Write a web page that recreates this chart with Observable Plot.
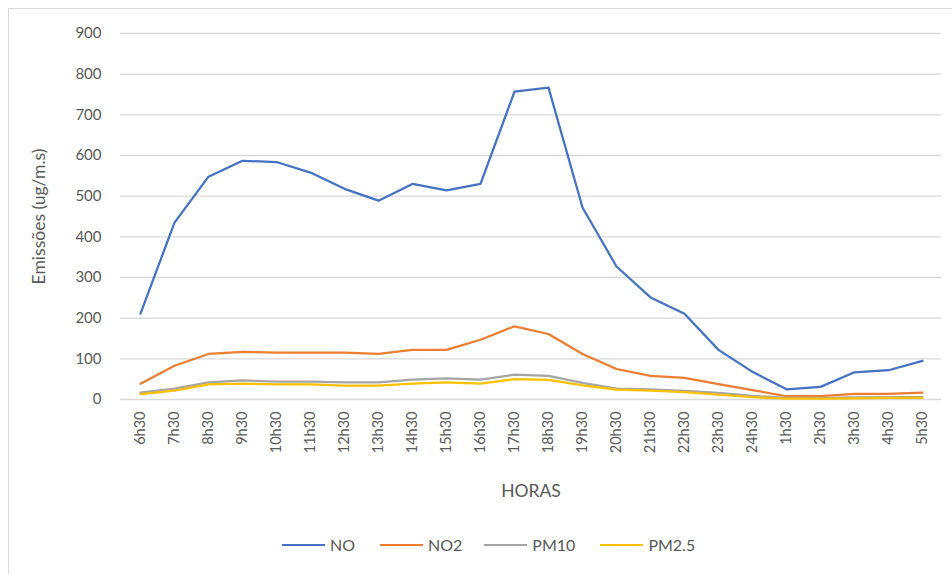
<!DOCTYPE html>
<html>
<head>
<meta charset="utf-8">
<script src="https://cdn.jsdelivr.net/npm/d3@7"></script>
<script src="https://cdn.jsdelivr.net/npm/@observablehq/plot@0.6"></script>
<style>
  html, body { margin: 0; padding: 0; background: #fff; }
  #wrap { position: relative; width: 952px; height: 574px; overflow: hidden; font-family: Lato, "Liberation Sans", sans-serif; }
  #border { position: absolute; left: 8px; top: 8px; width: 960px; height: 600px; border: 1.5px solid #D9D9D9; box-sizing: border-box; }
  #chart { position: absolute; left: 0; top: 0; }
  #legend { position: absolute; top: 535px; left: 282px; display: flex; font-size: 16px; color: #595959; }
  .item { display: flex; align-items: center; }
  .swatch { width: 43px; height: 0; border-top: 2.25px solid; margin-right: 5px; }
  g[aria-label="y-axis label"] text, g[aria-label="x-axis label"] text { font-size: 17.5px; }
</style>
</head>
<body>
<div id="wrap">
  <div id="border"></div>
  <div id="chart"></div>
  <div id="legend"></div>
</div>
<script>
const hours = ["6h30","7h30","8h30","9h30","10h30","11h30","12h30","13h30","14h30","15h30","16h30","17h30","18h30","19h30","20h30","21h30","22h30","23h30","24h30","1h30","2h30","3h30","4h30","5h30"];
const seriesNames = ["NO", "NO2", "PM10", "PM2.5"];
const seriesColors = ["#4472C4", "#ED7D31", "#A5A5A5", "#FFC000"];
const NO   = [211, 435, 548, 587, 584, 558, 518, 489, 530, 514, 530, 757, 767, 472, 327, 251, 211, 122, 68, 25, 31, 67, 72, 95];
const NO2  = [39, 83, 112, 117, 115, 115, 115, 112, 122, 122, 147, 180, 161, 112, 75, 58, 53, 38, 23, 8, 8, 14, 14, 17];
const PM10 = [17, 27, 42, 47, 44, 44, 42, 42, 49, 52, 49, 61, 58, 41, 27, 25, 21, 16, 9, 4, 4, 5, 6, 6];
const PM25 = [13, 22, 37, 39, 37, 37, 34, 34, 39, 42, 39, 50, 48, 35, 24, 22, 18, 12, 6, 2, 2, 3, 4, 4];
const yTicks = [0, 100, 200, 300, 400, 500, 600, 700, 800, 900];

const seriesValues = [NO, NO2, PM10, PM25];
const data = seriesNames.flatMap((name, s) => hours.map((h, i) => ({hour: h, value: seriesValues[s][i], series: name})));

const chart = Plot.plot({
  width: 952,
  height: 510,
  marginLeft: 120,
  marginRight: 11,
  marginTop: 33,
  marginBottom: 111,
  style: {fontFamily: "Lato, 'Liberation Sans', sans-serif", fontSize: "14px", color: "#595959", background: "transparent", overflow: "visible"},
  x: {type: "point", domain: hours, padding: 0.5},
  y: {domain: [0, 900]},
  color: {domain: seriesNames, range: seriesColors},
  marks: [
    Plot.gridY(yTicks, {stroke: "#D9D9D9", strokeOpacity: 1, strokeWidth: 1.3}),
    Plot.axisY(yTicks, {tickSize: 0, tickPadding: 19, label: "Emissões (ug/m.s)", labelAnchor: "center", labelArrow: "none", labelOffset: 88, fontSize: 15, fill: "#595959"}),
    Plot.axisX({tickSize: 0, tickRotate: -90, tickPadding: 12, label: "HORAS", labelAnchor: "center", labelArrow: "none", labelOffset: 97, fontSize: 14.5, fill: "#595959"}),
    Plot.line(data, {x: "hour", y: "value", stroke: "series", strokeWidth: 2.25})
  ]
});
document.getElementById("chart").appendChild(chart);

const legend = document.getElementById("legend");
const gaps = [25, 22, 25, 0];
seriesNames.forEach((name, i) => {
  const item = document.createElement("div");
  item.className = "item";
  item.style.marginRight = gaps[i] + "px";
  const sw = document.createElement("span");
  sw.className = "swatch";
  sw.style.borderTopColor = seriesColors[i];
  const label = document.createElement("span");
  label.textContent = name;
  item.appendChild(sw);
  item.appendChild(label);
  legend.appendChild(item);
});
</script>
</body>
</html>
